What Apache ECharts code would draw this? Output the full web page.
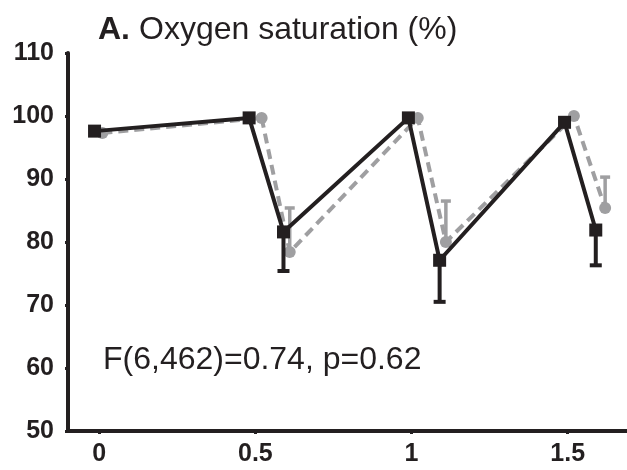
<!DOCTYPE html>
<html>
<head>
<meta charset="utf-8">
<script src="https://cdn.jsdelivr.net/npm/echarts@6/dist/echarts.min.js"></script>
<style>html,body{margin:0;padding:0;background:#fff;}</style>
</head>
<body>
<div id="chart" style="width:627px;height:470px;"></div>
<script>
// group 1 (black, solid) - error bars drawn downward
var timesA = [-0.015, 0.48, 0.59, 0.99, 1.09, 1.49, 1.59];
var satA   = [97.6, 99.7, 81.6, 99.7, 77.1, 99.0, 81.9];
var errA   = [0, 0, 6.2, 0, 6.6, 0, 5.6];
// group 2 (grey, dashed) - error bars drawn upward
var timesB = [0.01, 0.52, 0.61, 1.02, 1.11, 1.52, 1.62];
var satB   = [97.3, 99.7, 78.4, 99.7, 80.0, 100.0, 85.4];
var errB   = [0, 0, 7.0, 0, 6.5, 0, 4.9];
var xTicks = [0, 0.5, 1, 1.5];
var statText = 'F(6,462)=0.74, p=0.62';

var black = '#231f20';
var grey = '#9f9fa1';
var font = 'Liberation Sans, Arial, sans-serif';

function pairs(xs, ys) {
    return xs.map(function (x, i) { return [x, ys[i]]; });
}
function bars(xs, ys, es, sign) {
    var out = [];
    for (var i = 0; i < xs.length; i++) {
        if (es[i] > 0) out.push([xs[i], ys[i], ys[i] + sign * es[i]]);
    }
    return out;
}
function errRender(color, w, cap) {
    return function (params, api) {
        var p1 = api.coord([api.value(0), api.value(1)]);
        var p2 = api.coord([api.value(0), api.value(2)]);
        var st = { stroke: color, lineWidth: w };
        return {
            type: 'group',
            children: [
                { type: 'line', shape: { x1: p1[0], y1: p1[1], x2: p2[0], y2: p2[1] }, style: st },
                { type: 'line', shape: { x1: p2[0] - cap / 2, y1: p2[1], x2: p2[0] + cap / 2, y2: p2[1] }, style: st }
            ]
        };
    };
}

var myChart = echarts.init(document.getElementById('chart'));
var option = {
    animation: false,
    backgroundColor: '#fff',
    title: [
        {
            text: '{b|A.}{g| }Oxygen saturation (%)',
            left: 98, top: 14, padding: 0,
            textStyle: {
                fontFamily: font, fontSize: 32, fontWeight: 'normal', color: black,
                rich: {
                    b: { fontFamily: font, fontSize: 32, fontWeight: 'bold', color: black },
                    g: { fontFamily: font, fontSize: 32, width: 9 }
                }
            }
        },
        {
            text: statText,
            left: 103, top: 344, padding: 0,
            textStyle: { fontFamily: font, fontSize: 32, fontWeight: 'normal', color: black }
        }
    ],
    grid: { left: 68, right: 0, top: 53, bottom: 39 },
    xAxis: {
        type: 'value', min: -0.1, max: 1.69,
        splitLine: { show: false },
        axisLine: { onZero: false, lineStyle: { color: black, width: 4 } },
        axisTick: { show: true, length: 3, customValues: xTicks, lineStyle: { color: black, width: 3 } },
        axisLabel: { customValues: xTicks, margin: 11, color: black, fontFamily: font, fontSize: 25, fontWeight: 'bold' }
    },
    yAxis: {
        type: 'value', min: 50, max: 110, interval: 10,
        splitLine: { show: false },
        axisLine: { show: true, onZero: false, lineStyle: { color: black, width: 4 } },
        axisTick: { show: true, length: 3, lineStyle: { color: black, width: 3 } },
        axisLabel: { margin: 14, color: black, fontFamily: font, fontSize: 25, fontWeight: 'bold' }
    },
    series: [
        {
            type: 'custom', z: 1,
            renderItem: errRender(grey, 3.5, 10),
            data: bars(timesB, satB, errB, 1)
        },
        {
            type: 'line', z: 2,
            data: pairs(timesB, satB),
            symbol: 'circle', symbolSize: 12,
            itemStyle: { color: grey },
            lineStyle: { color: grey, width: 4, type: [10, 6] }
        },
        {
            type: 'custom', z: 3,
            renderItem: errRender(black, 4, 12),
            data: bars(timesA, satA, errA, -1)
        },
        {
            type: 'line', z: 4,
            data: pairs(timesA, satA),
            symbol: 'rect', symbolSize: 13,
            itemStyle: { color: black },
            lineStyle: { color: black, width: 4 }
        }
    ]
};
myChart.setOption(option);
</script>
</body>
</html>
